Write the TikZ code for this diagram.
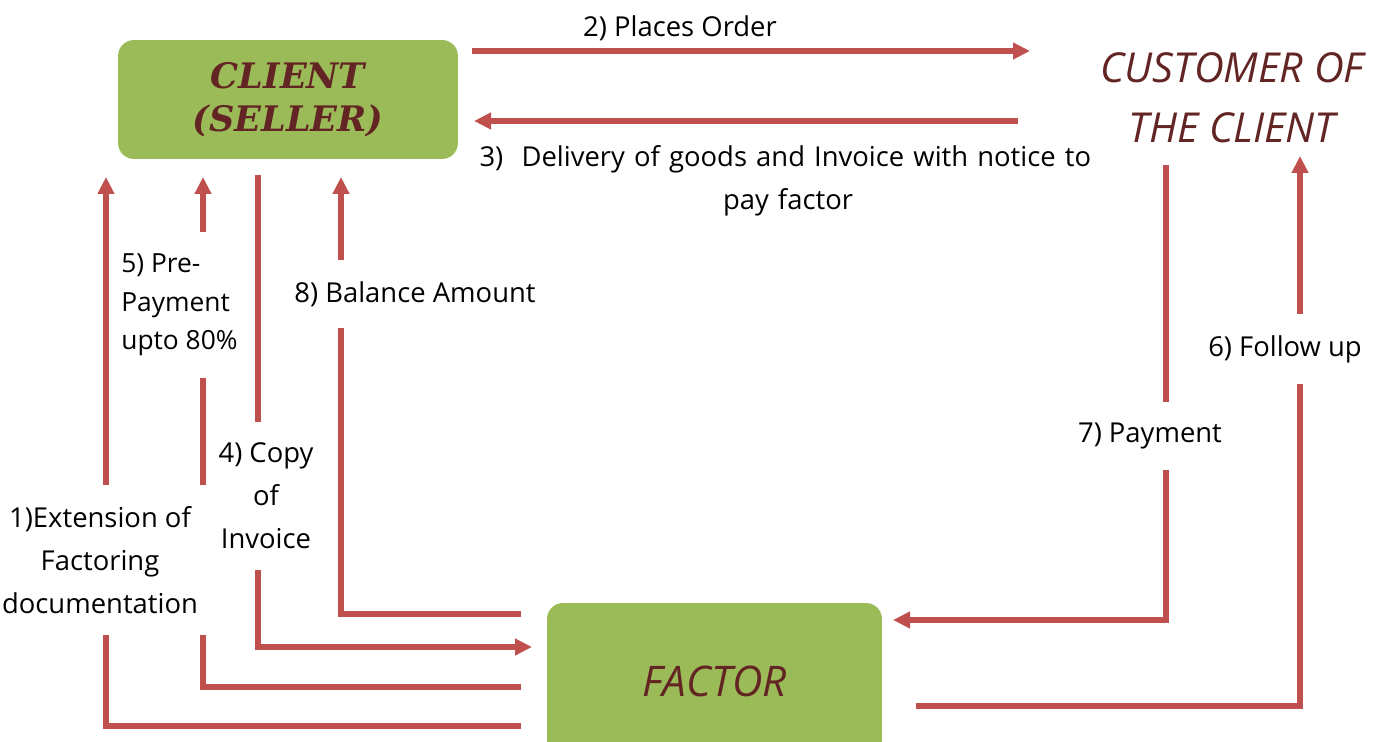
\documentclass[tikz,border=0pt]{standalone}
\usepackage{fontspec}
\setmainfont{Open Sans}
\newfontfamily\sellerfont{DejaVu Serif}
\usepackage{tikz}
\usetikzlibrary{arrows.meta}

\definecolor{partygreen}{HTML}{9BBB59}
\definecolor{flowred}{HTML}{C0504D}
\definecolor{inkred}{HTML}{632523}

\tikzset{
  party/.style={fill=partygreen, rounded corners=0.32cm, text=inkred, align=center, inner sep=0pt},
  flowline/.style={draw=flowred, line width=0.11cm},
  flowarrow/.style={flowline, -{Triangle[length=0.34cm,width=0.32cm]}},
  steplabel/.style={font=\fontsize{15.6}{24.5}\selectfont, align=center, inner xsep=0pt, inner ysep=0.42cm},
}

\begin{document}
\begin{tikzpicture}[x=0.02cm,y=-0.02cm]
\useasboundingbox (0,0) rectangle (1381,742);
\node[party, minimum width=6.8cm, minimum height=2.38cm, font=\sellerfont\bfseries\itshape\fontsize{20}{24.5}\selectfont] (client) at (288,99.5) {CLIENT\\(SELLER)};
\node[party, minimum width=6.7cm, minimum height=3.14cm, font=\itshape\fontsize{24}{28}\selectfont] (factor) at (714.5,681.5) {FACTOR};
\node[text=inkred, align=center, font=\itshape\fontsize{23.5}{34}\selectfont] (customer) at (1232,98) {CUSTOMER OF\\THE CLIENT};

\node[steplabel] (lab2) at (680,28) {2) Places Order};
\node[steplabel, text width=12.34cm] (lab3) at (788,181) {\makebox[\linewidth][s]{3)\ \ Delivery of goods and Invoice with notice to}\\pay factor};
\node[steplabel, anchor=west, align=left, font=\fontsize{15}{22}\selectfont] (lab5) at (121,305) {5) Pre-\\Payment\\upto 80\%};
\node[steplabel] (lab8) at (415,294) {8) Balance Amount};
\node[steplabel] (lab4) at (266,496) {4) Copy\\of\\Invoice};
\node[steplabel] (lab1) at (100,560) {1)Extension of\\Factoring\\documentation};
\node[steplabel] (lab7) at (1150,436) {7) Payment};
\node[steplabel] (lab6) at (1285,349) {6) Follow up};

\coordinate (c2) at (472,51);
\coordinate (u2) at (1030,51);
\coordinate (u3) at (1018,121);
\coordinate (c3) at (474,121);
\coordinate (f1) at (521,726);
\coordinate (x1) at (106,177);
\coordinate (f5) at (521,687);
\coordinate (x5) at (203,177);
\coordinate (c4) at (258,175);
\coordinate (f4) at (532,647);
\coordinate (f8) at (521,614);
\coordinate (x8) at (341,177);
\coordinate (u7) at (1166,165);
\coordinate (f7) at (893,620);
\coordinate (f6) at (916,706);
\coordinate (x6) at (1300,156);

\draw[flowarrow] (c2) -- (u2);
\draw[flowarrow] (u3) -- (c3);
\draw[flowline] (f1) -| (lab1.south -| x1);
\draw[flowarrow] (lab1.north -| x1) -- (x1);
\draw[flowline] (f5) -| (lab1.south -| x5);
\draw[flowline] (lab1.north -| x5) -- (lab5.south -| x5);
\draw[flowarrow] (lab5.north -| x5) -- (x5);
\draw[flowline] (c4) -- (lab4.north -| c4);
\draw[flowarrow] (lab4.south -| c4) |- (f4);
\draw[flowline] (f8) -| (lab8.south -| x8);
\draw[flowarrow] (lab8.north -| x8) -- (x8);
\draw[flowline] (u7) -- (lab7.north -| u7);
\draw[flowarrow] (lab7.south -| u7) |- (f7);
\draw[flowline] (f6) -| (lab6.south -| x6);
\draw[flowarrow] (lab6.north -| x6) -- (x6);
\end{tikzpicture}
\end{document}
